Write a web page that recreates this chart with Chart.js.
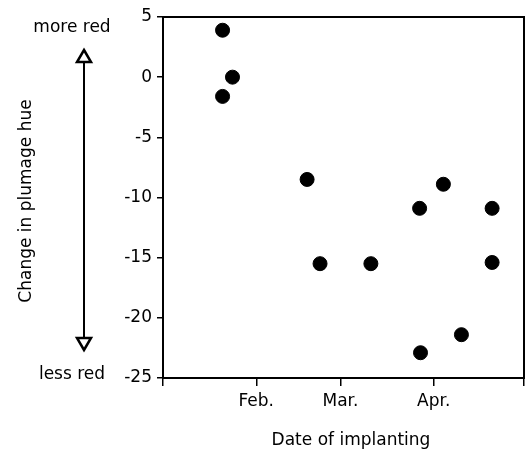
<!DOCTYPE html>
<html>
<head>
<meta charset="utf-8">
<script src="https://cdn.jsdelivr.net/npm/chart.js@4"></script>
<style>
  body { margin: 0; background: #fff; }
  #wrap { width: 529px; height: 450px; }
</style>
</head>
<body>
<div id="wrap"><canvas id="hueChart"></canvas></div>
<script>
// day of year (Jan 1 = 0) of implanting, and change in plumage hue
var implantDay = [19.8, 23.1, 19.8, 47.9, 52.2, 69.1, 85.3, 85.6, 93.2, 99.2, 109.4, 109.4];
var hueChange = [3.9, 0.0, -1.6, -8.5, -15.5, -15.5, -10.9, -22.9, -8.9, -21.4, -10.9, -15.4];

var monthTicks = [0, 31, 59, 90, 120];
var monthLabels = ['', 'Feb.', 'Mar.', 'Apr.', ''];
var hueTicks = [5, 0, -5, -10, -15, -20, -25];

var FONT = 'DejaVu Sans';
Chart.defaults.font.family = FONT;
Chart.defaults.font.size = 17;
Chart.defaults.color = '#000';

// box round the plot, the arrow and the axis titles
var decor = {
    id: 'decor',
    afterDraw: function (chart) {
        var ctx = chart.ctx;
        var a = chart.chartArea;
        ctx.save();
        ctx.strokeStyle = '#000';
        ctx.lineWidth = 2;
        ctx.strokeRect(a.left, a.top, a.right - a.left, a.bottom - a.top);

        ctx.fillStyle = '#000';
        ctx.font = '17px "' + FONT + '"';
        ctx.textAlign = 'center';
        ctx.textBaseline = 'alphabetic';
        ctx.fillText('more red', 72, 32);
        ctx.fillText('less red', 72, 379);
        ctx.fillText('Date of implanting', 351, 445);

        // double arrow
        var x = 84;
        ctx.lineWidth = 2;
        ctx.beginPath();
        ctx.moveTo(x, 62);
        ctx.lineTo(x, 338);
        ctx.stroke();
        ctx.lineWidth = 2.5;
        ctx.lineJoin = 'miter';
        ctx.fillStyle = '#fff';
        ctx.beginPath();
        ctx.moveTo(x, 50);
        ctx.lineTo(x + 7, 62);
        ctx.lineTo(x - 7, 62);
        ctx.closePath();
        ctx.fill();
        ctx.stroke();
        ctx.beginPath();
        ctx.moveTo(x, 350);
        ctx.lineTo(x + 7, 338);
        ctx.lineTo(x - 7, 338);
        ctx.closePath();
        ctx.fill();
        ctx.stroke();

        ctx.fillStyle = '#000';
        ctx.translate(27, 201);
        ctx.rotate(-Math.PI / 2);
        ctx.textBaseline = 'middle';
        ctx.fillText('Change in plumage hue', 0, 0);
        ctx.restore();
    }
};

var points = [];
for (let i = 0; i < implantDay.length; i++) {
    points.push({ x: implantDay[i], y: hueChange[i] });
}

var ctx = document.getElementById('hueChart').getContext('2d');
var hueChart = new Chart(ctx, {
    type: 'scatter',
    data: {
        datasets: [{
            data: points,
            backgroundColor: '#000',
            borderColor: '#000',
            pointRadius: 7,
            pointHoverRadius: 7
        }]
    },
    options: {
        responsive: true,
        maintainAspectRatio: false,
        animation: false,
        layout: {
            autoPadding: false,
            padding: { top: 17, right: 0, bottom: 0, left: 0 }
        },
        plugins: {
            legend: { display: false },
            tooltip: { enabled: false }
        },
        scales: {
            x: {
                type: 'linear',
                min: 0,
                max: 120,
                afterBuildTicks: function (scale) {
                    scale.ticks = monthTicks.map(v => ({ value: v }));
                },
                afterFit: function (scale) {
                    scale.height = 72;
                },
                ticks: {
                    autoSkip: false,
                    maxRotation: 0,
                    padding: 5,
                    callback: function (val) {
                        return monthLabels[monthTicks.indexOf(val)];
                    }
                },
                grid: {
                    drawOnChartArea: false,
                    drawTicks: true,
                    tickLength: 8,
                    tickColor: '#000',
                    lineWidth: 1.5
                },
                border: { display: true, color: '#000', width: 2 }
            },
            y: {
                min: -25,
                max: 5,
                afterBuildTicks: function (scale) {
                    scale.ticks = hueTicks.map(v => ({ value: v }));
                },
                afterFit: function (scale) {
                    scale.width = 163;
                },
                ticks: {
                    padding: 5,
                    callback: function (val) {
                        return String(val);
                    }
                },
                grid: {
                    drawOnChartArea: false,
                    drawTicks: true,
                    tickLength: 6,
                    tickColor: '#000',
                    lineWidth: 1.5
                },
                border: { display: true, color: '#000', width: 2 }
            }
        }
    },
    plugins: [decor]
});
</script>
</body>
</html>
